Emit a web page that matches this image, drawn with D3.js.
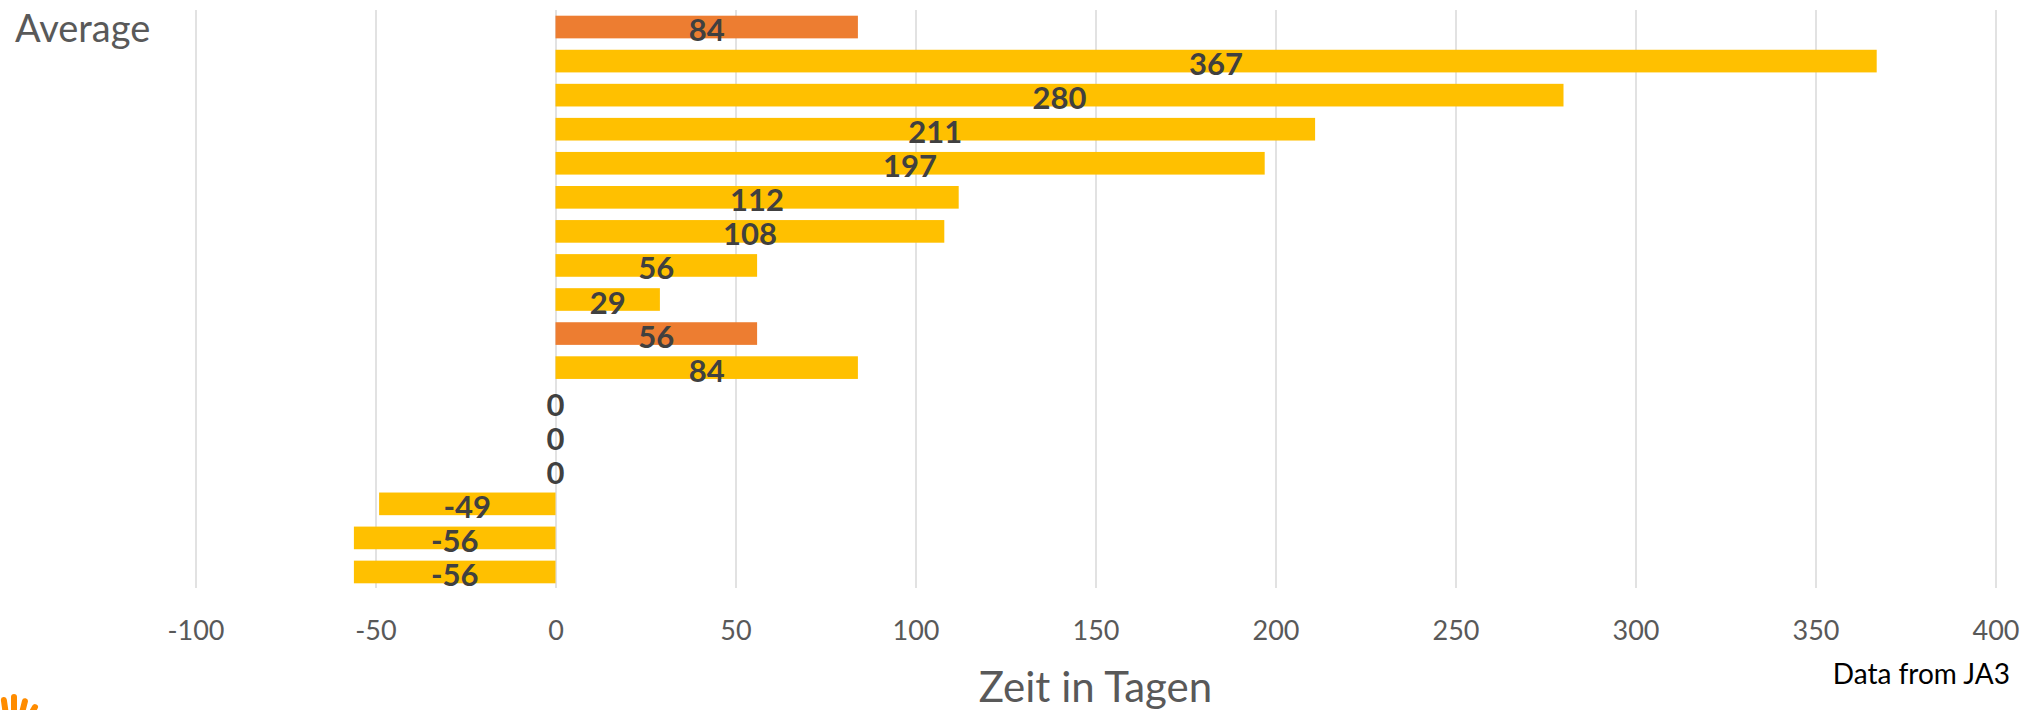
<!DOCTYPE html>
<html>
<head>
<meta charset="utf-8">
<script src="https://cdn.jsdelivr.net/npm/d3@7"></script>
<style>
  body { margin: 0; background: #fff; }
  svg { display: block; font-family: Lato, "Open Sans", sans-serif; }
</style>
</head>
<body>
<script>
// chart data
var categories = ["Average", "", "", "", "", "", "", "", "", "", "", "", "", "", "", "", ""];
var values = [84, 367, 280, 211, 197, 112, 108, 56, 29, 56, 84, 0, 0, 0, -49, -56, -56];
var highlighted = [0, 9];   // rows drawn in orange
var xTicks = [-100, -50, 0, 50, 100, 150, 200, 250, 300, 350, 400];
var xTitle = "Zeit in Tagen";
var sourceNote = "Data from JA3";

var width = 2029, height = 710;

var svg = d3.select("body")
    .append("svg")
    .attr("width", width)
    .attr("height", height);

var x = d3.scaleLinear()
    .domain([-100, 400])
    .range([195.5, 1995.5]);

var y = d3.scaleBand()
    .domain(d3.range(values.length))
    .range([10, 589])
    .paddingInner(0.335)
    .paddingOuter(0.1675);

// gridlines + tick labels (plain hyphen like excel, not the unicode minus)
var xAxis = svg.append("g")
    .attr("transform", "translate(0,588)")
    .call(d3.axisBottom(x)
        .tickValues(xTicks)
        .tickFormat(function (d) { return String(d); })
        .tickSize(-578)
        .tickPadding(0));

xAxis.select(".domain").remove();
xAxis.selectAll(".tick line")
    .attr("stroke", "#d9d9d9")
    .attr("stroke-width", 1.5);
xAxis.selectAll(".tick text")
    .attr("y", 52)
    .attr("dy", null)
    .attr("fill", "#595959")
    .style("font-size", "27px")
    .style("font-family", "Lato, sans-serif");

// bars
svg.selectAll(".bar")
    .data(values)
    .enter()
    .append("rect")
    .attr("class", "bar")
    .attr("x", function (d) { return x(Math.min(0, d)); })
    .attr("y", function (d, i) { return y(i); })
    .attr("width", function (d) { return Math.abs(x(d) - x(0)); })
    .attr("height", y.bandwidth())
    .attr("fill", function (d, i) { return highlighted.indexOf(i) >= 0 ? "#ed7d31" : "#ffc000"; });

// value labels, centred on the bar
svg.selectAll(".val")
    .data(values)
    .enter()
    .append("text")
    .attr("class", "val")
    .attr("x", function (d) { return (x(0) + x(d)) / 2; })
    .attr("y", function (d, i) { return y(i) + y.bandwidth() / 2 + 2; })
    .attr("text-anchor", "middle")
    .attr("dominant-baseline", "central")
    .attr("fill", "#404040")
    .style("font-size", "31px")
    .style("font-weight", "bold")
    .text(function (d) { return d; });

// category labels (only "Average" is named)
svg.selectAll(".cat")
    .data(categories)
    .enter()
    .append("text")
    .attr("class", "cat")
    .attr("x", 15)
    .attr("y", function (d, i) { return y(i) + y.bandwidth() / 2; })
    .attr("dominant-baseline", "central")
    .attr("fill", "#595959")
    .style("font-size", "38px")
    .text(function (d) { return d; });

// axis title
svg.append("text")
    .attr("x", (x.range()[0] + x.range()[1]) / 2)
    .attr("y", 702)
    .attr("text-anchor", "middle")
    .attr("fill", "#595959")
    .style("font-size", "42px")
    .text(xTitle);

// source note
svg.append("text")
    .attr("x", 2010)
    .attr("y", 684)
    .attr("text-anchor", "end")
    .attr("fill", "#000")
    .style("font-size", "28px")
    .text(sourceNote);

// little orange logo fingers peeking in at the bottom left
var logo = svg.append("g").attr("fill", "#ff8c00");
[[2, 697, -8], [11, 694, 0], [20, 698, 14], [28, 703, 30]].forEach(function (f) {
    logo.append("rect")
        .attr("x", f[0])
        .attr("y", f[1])
        .attr("width", 6)
        .attr("height", 22)
        .attr("rx", 3)
        .attr("transform", "rotate(" + f[2] + "," + (f[0] + 3) + "," + (f[1] + 11) + ")");
});
</script>
</body>
</html>
